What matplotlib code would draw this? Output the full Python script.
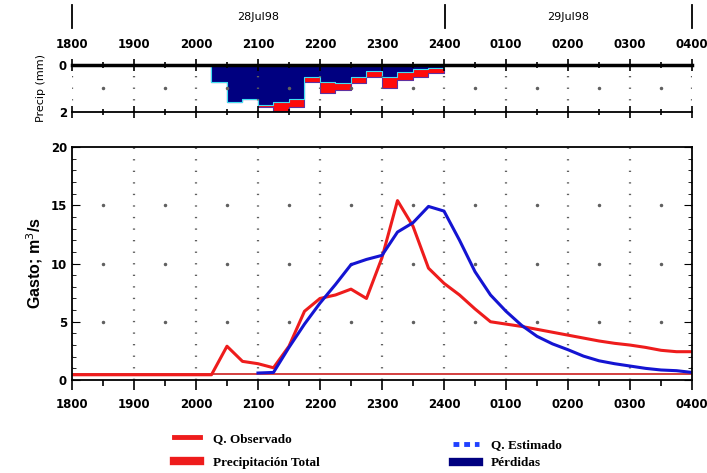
import matplotlib.pyplot as plt
import numpy as np
from matplotlib import font_manager
from matplotlib.lines import Line2D

# hours after 18:00 on 28Jul98
hour_ticks = np.arange(0, 11)
hour_labels = ['1800', '1900', '2000', '2100', '2200', '2300', '2400',
               '0100', '0200', '0300', '0400']

# observed flow (m3/s), every 15 min
t_obs = [0.0, 2.25, 2.5, 2.75, 3.0, 3.25, 3.5, 3.75, 4.0, 4.25, 4.5, 4.75,
         5.0, 5.25, 5.5, 5.75, 6.0, 6.25, 6.5, 6.75, 7.0, 7.25, 7.5, 7.75,
         8.0, 8.25, 8.5, 8.75, 9.0, 9.25, 9.5, 9.75, 10.0]
q_obs = [0.45, 0.45, 2.9, 1.6, 1.4, 1.05, 2.9, 5.9, 7.0, 7.3, 7.8, 7.0,
         10.5, 15.4, 13.2, 9.6, 8.3, 7.3, 6.1, 5.0, 4.8, 4.6, 4.35, 4.1,
         3.85, 3.6, 3.35, 3.15, 3.0, 2.8, 2.55, 2.43, 2.43]

# estimated flow (m3/s)
t_est = [3.0, 3.25, 3.5, 3.75, 4.0, 4.25, 4.5, 4.75, 5.0, 5.25, 5.5, 5.75,
         6.0, 6.25, 6.5, 6.75, 7.0, 7.25, 7.5, 7.75, 8.0, 8.25, 8.5, 8.75,
         9.0, 9.25, 9.5, 9.75, 10.0]
q_est = [0.6, 0.65, 2.8, 4.8, 6.6, 8.2, 9.9, 10.35, 10.7, 12.7, 13.5, 14.9,
         14.5, 12.0, 9.3, 7.3, 5.9, 4.7, 3.75, 3.1, 2.6, 2.05, 1.65, 1.4,
         1.2, 1.0, 0.86, 0.8, 0.65]

base_flow = 0.5

# precipitation per 15-min interval (mm), interval start times
t_prec = [1.75, 2.0, 2.25, 2.5, 2.75, 3.0, 3.25, 3.5, 3.75, 4.0, 4.25, 4.5,
          4.75, 5.0, 5.25, 5.5, 5.75]
p_total = [0.02, 0.02, 0.74, 1.56, 1.45, 1.80, 1.94, 1.77, 0.74, 1.18, 1.06,
           0.78, 0.50, 0.99, 0.64, 0.52, 0.35]
p_loss = [0.02, 0.02, 0.74, 1.56, 1.45, 1.70, 1.56, 1.45, 0.50, 0.74, 0.78,
          0.52, 0.24, 0.50, 0.28, 0.17, 0.14]

names = {f.name for f in font_manager.fontManager.ttflist}
tick_font = 'Liberation Sans Narrow' if 'Liberation Sans Narrow' in names else 'DejaVu Sans'
plt.rcParams['font.family'] = tick_font

fig = plt.figure(figsize=(7.07, 4.73), dpi=100)
ax = fig.add_axes([0.1018, 0.1966, 0.877, 0.4926])
axp = fig.add_axes([0.1018, 0.7632, 0.877, 0.0994])

RED = '#ee1c1c'
BLUE = '#1414d2'
NAVY = '#000080'
DOT = '#606060'


def time_axis(a):
    a.set_xlim(0, 10)
    a.set_xticks(hour_ticks)
    a.set_xticks(np.arange(0.5, 10, 1), minor=True)
    a.set_xticklabels(hour_labels, fontsize=8.5, fontweight='bold')
    a.grid(axis='x', which='major', color=DOT, linewidth=1.6,
           linestyle=(0, (0.6, 4.6)))


# main hydrograph
time_axis(ax)
ax.set_ylim(0, 20)
ax.set_yticks([0, 5, 10, 15, 20])
ax.set_yticks(np.arange(0, 21, 1), minor=True)
ax.tick_params(axis='y', which='both', direction='in', left=True, right=True,
               labelsize=8.5)
ax.tick_params(axis='y', which='major', length=6)
ax.tick_params(axis='y', which='minor', length=3)
ax.tick_params(axis='x', which='major', direction='out', length=7, width=1.2, pad=6)
ax.tick_params(axis='x', which='minor', direction='out', length=4, width=1.2)
for lab in ax.get_yticklabels():
    lab.set_fontweight('bold')
for x in np.arange(0.5, 10, 1):
    ax.plot([x] * 3, [5, 10, 15], linestyle='none', marker='.', markersize=3,
            color=DOT)
ax.axhline(base_flow, color='#d03030', linewidth=1.3)
ax.plot(t_obs, q_obs, color=RED, linewidth=2.2)
ax.plot(t_est, q_est, color=BLUE, linewidth=2.2)
ax.set_ylabel('Gasto; m$^3$/s', fontsize=11.5, fontweight='bold',
              family='Liberation Sans', labelpad=4)
for s in ax.spines.values():
    s.set_linewidth(1.3)

# precipitation panel
time_axis(axp)
axp.set_ylim(2, 0)
axp.set_yticks([0, 2])
axp.set_yticks([1], minor=True)
axp.tick_params(axis='x', which='both', top=True, bottom=True, labeltop=True,
                labelbottom=False, direction='inout', width=1.2, pad=6)
axp.tick_params(axis='x', which='major', length=8)
axp.tick_params(axis='x', which='minor', length=5)
axp.tick_params(axis='y', which='both', length=0, labelsize=8.5)
for lab in axp.get_yticklabels():
    lab.set_fontweight('bold')
for x in np.arange(0.5, 10, 1):
    axp.plot([x], [1], linestyle='none', marker='.', markersize=3, color=DOT)
edges = np.append(t_prec, t_prec[-1] + 0.25)
tot = np.append(p_total, p_total[-1])
loss = np.append(p_loss, p_loss[-1])
axp.fill_between(edges, loss, tot, step='post', color='#ff0a0a',
                 edgecolor='#6030a0', linewidth=0.8)
axp.fill_between(edges, 0, loss, step='post', color=NAVY,
                 edgecolor='#40e0f0', linewidth=0.8)
axp.spines['top'].set_linewidth(2.5)
axp.spines['bottom'].set_linewidth(1.3)
axp.spines['left'].set_visible(False)
axp.spines['right'].set_visible(False)
axp.set_ylabel('Precip (mm)', fontsize=8, labelpad=9)

# date header
fig.text(258 / 707, 1 - 17 / 473, '28Jul98', ha='center', va='center', fontsize=8)
fig.text(568 / 707, 1 - 17 / 473, '29Jul98', ha='center', va='center', fontsize=8)
for px in (72, 445, 692):
    fig.add_artist(Line2D([px / 707, px / 707], [1 - 5 / 473, 1 - 28 / 473],
                          color='black', linewidth=1.3))

# legend
leg_font = {'family': 'Liberation Serif', 'weight': 'bold', 'size': 9.5}
h1 = [Line2D([], [], color=RED, linewidth=3.5),
      Line2D([], [], color=RED, linewidth=6)]
h2 = [Line2D([], [], color='#2040ff', linewidth=3.5, linestyle=(0, (1.2, 1))),
      Line2D([], [], color=NAVY, linewidth=6)]
fig.legend(h1, ['Q. Observado', 'Precipitación Total'], loc='upper left',
           bbox_to_anchor=(0.238, 0.097), frameon=False,
           prop=leg_font, handlelength=2.0, handletextpad=1.0, labelspacing=0.9,
           borderaxespad=0)
fig.legend(h2, ['Q. Estimado', 'Pérdidas'], loc='upper left',
           bbox_to_anchor=(0.633, 0.083), frameon=False, prop=leg_font,
           handlelength=2.0, handletextpad=0.9, labelspacing=0.45,
           borderaxespad=0)

fig.savefig('out.png', dpi=100)
